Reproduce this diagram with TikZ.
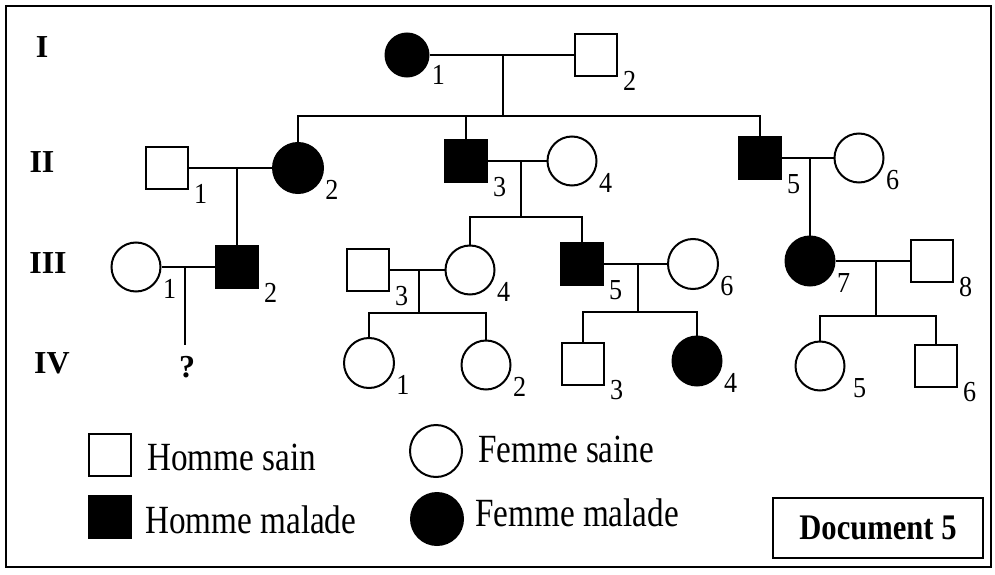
\documentclass[tikz,border=0pt]{standalone}
\usepackage{fontspec}
\setmainfont{Liberation Serif}
\newfontfamily\legfont{Liberation Serif}[FakeStretch=0.83]
\newfontfamily\docfont{Liberation Serif}[FakeStretch=0.85]
\newfontfamily\numfont{Liberation Serif}[FakeStretch=0.9]
\begin{document}
\begin{tikzpicture}[x=1pt,y=-1pt,
  sq/.style={draw, line width=2pt, rectangle, minimum size=42pt, inner sep=0pt},
  ci/.style={draw, line width=2pt, circle, minimum size=49pt, inner sep=0pt},
  ill/.style={fill=black},
  lnk/.style={line width=1.8pt},
  numbase/.style={inner sep=0pt, outer sep=0pt, anchor=west, font=\numfont\fontsize{29}{32}\selectfont},
  nums/.style={numbase, xshift=5pt, yshift=-4pt},
  numc/.style={numbase, xshift=9pt, yshift=-4pt},
  nsl/.style={label={[nums]-45:#1}},
  ncl/.style={label={[numc]-45:#1}},
  gen/.style={inner sep=0pt, font=\fontsize{32}{36}\selectfont\bfseries},
  legt/.style={inner sep=0pt, anchor=base west, font=\legfont\fontsize{40}{46}\selectfont},
  docbox/.style={draw, line width=1.8pt, minimum width=210pt, minimum height=60pt, inner sep=0pt, font=\docfont\bfseries\fontsize{36}{40}\selectfont}
]
\useasboundingbox (0,0) rectangle (995,575);
\draw[line width=2.5pt] (6,6) rectangle (991,567);

% generation labels
\node[gen] (gI) at (42,47) {I};
\node[gen] (gII) at (42,162) {II};
\node[gen] (gIII) at (48,263) {III};
\node[gen] (gIV) at (52,363) {IV};

% generation I
\node[ci,ill,minimum size=43pt,ncl=1] (i1) at (407,55) {};
\node[sq,nsl=2] (i2) at (596,55) {};

% generation II
\node[sq,nsl=1] (ii1) at (167,168) {};
\node[ci,ill,minimum size=50pt,ncl=2] (ii2) at (298,168) {};
\node[sq,ill,nsl=3] (ii3) at (466,161) {};
\node[ci,ncl=4] (ii4) at (572,161) {};
\node[sq,ill,nsl=5] (ii5) at (760,158) {};
\node[ci,ncl=6] (ii6) at (859,158) {};

% generation III
\node[ci,ncl=1] (iii1) at (136,267) {};
\node[sq,ill,nsl=2] (iii2) at (237,267) {};
\node[sq,nsl=3] (iii3) at (368,270) {};
\node[ci,ncl=4] (iii4) at (470,270) {};
\node[sq,ill,nsl=5] (iii5) at (582,264) {};
\node[ci,minimum size=50pt,ncl=6] (iii6) at (693,264) {};
\node[ci,ill,ncl=7] (iii7) at (810,261) {};
\node[sq,nsl=8] (iii8) at (932,261) {};

% generation IV
\node[ci,minimum size=50pt,ncl=1] (iv1) at (369,363) {};
\node[ci,ncl=2] (iv2) at (486,365) {};
\node[sq,nsl=3] (iv3) at (583,364) {};
\node[ci,ill,ncl=4] (iv4) at (697,361) {};
\node[ci,label={[numc,xshift=6pt]-45:5}] (iv5) at (820,366) {};
\node[sq,nsl=6] (iv6) at (936,366) {};
\node[inner sep=0pt, font=\fontsize{32}{36}\selectfont\bfseries] (q) at (187,367) {?};

% connectors generation I
\coordinate (m1) at (503,55);
\coordinate (b1) at (503,116);
\draw[lnk] (i1) -- (i2);
\draw[lnk] (m1) -- (b1);
\draw[lnk] (ii2) |- (b1) -| (ii5);
\draw[lnk] (ii3) -- (ii3 |- b1);

% connectors generation II
\coordinate (m2) at (237,168);
\draw[lnk] (ii1) -- (ii2);
\draw[lnk] (m2) -- (iii2);
\coordinate (m3) at (521,161);
\coordinate (b3) at (521,217);
\draw[lnk] (ii3) -- (ii4);
\draw[lnk] (m3) -- (b3);
\draw[lnk] (iii4) |- (b3) -| (iii5);
\coordinate (m5) at (810,158);
\draw[lnk] (ii5) -- (ii6);
\draw[lnk] (m5) -- (iii7);

% connectors generation III
\coordinate (m6) at (185,267);
\coordinate (qe) at (185,345);
\draw[lnk] (iii1) -- (iii2);
\draw[lnk] (m6) -- (qe);
\coordinate (m7) at (419,270);
\coordinate (b7) at (419,313);
\draw[lnk] (iii3) -- (iii4);
\draw[lnk] (m7) -- (b7);
\draw[lnk] (iv1) |- (b7) -| (iv2);
\coordinate (m8) at (638,264);
\coordinate (b8) at (638,312);
\draw[lnk] (iii5) -- (iii6);
\draw[lnk] (m8) -- (b8);
\draw[lnk] (iv3) |- (b8) -| (iv4);
\coordinate (m9) at (876,261);
\coordinate (b9) at (876,316);
\draw[lnk] (iii7) -- (iii8);
\draw[lnk] (m9) -- (b9);
\draw[lnk] (iv5) |- (b9) -| (iv6);

% legend
\node[sq] (l1) at (110,455) {};
\node[legt] (l1t) at (147,470) {Homme sain};
\node[sq,ill] (l2) at (110,517) {};
\node[legt] (l2t) at (145,533) {Homme malade};
\node[ci,minimum size=52pt] (l3) at (436,451) {};
\node[legt] (l3t) at (478,462) {Femme saine};
\node[ci,ill,minimum size=52pt] (l4) at (437,519) {};
\node[legt] (l4t) at (475,526) {Femme malade};

\node[docbox] (doc) at (878,528) {Document 5};
\end{tikzpicture}
\end{document}
